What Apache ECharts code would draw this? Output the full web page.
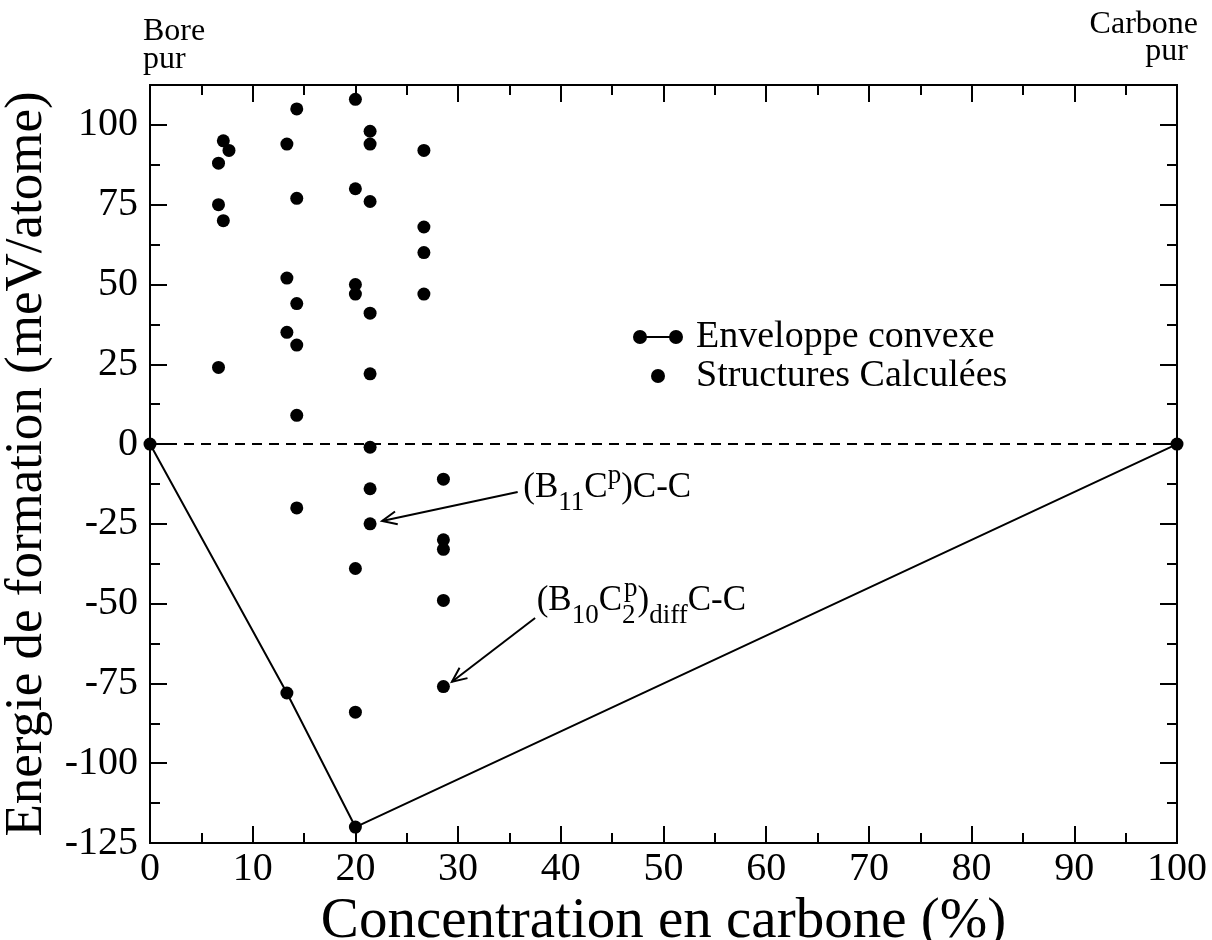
<!DOCTYPE html>
<html>
<head>
<meta charset="utf-8">
<script src="https://cdn.jsdelivr.net/npm/echarts@6/dist/echarts.min.js"></script>
<style>html,body{margin:0;padding:0;background:#fff}#c{width:1212px;height:940px}</style>
</head>
<body>
<div id="c"></div>
<script>
// ---------- data ----------
const hullX = [0, 13.33, 20, 100];
const hullY = [0, -78, -120, 0];

const structX = [6.67, 6.67, 6.67, 7.14, 7.14, 7.69,
  13.33, 13.33, 13.33,
  14.29, 14.29, 14.29, 14.29, 14.29, 14.29,
  20, 20, 20, 20, 20, 20,
  21.43, 21.43, 21.43, 21.43, 21.43, 21.43, 21.43, 21.43,
  26.67, 26.67, 26.67, 26.67,
  28.57, 28.57, 28.57, 28.57, 28.57];
const structY = [88, 75, 24, 95, 70, 92,
  94, 52, 35,
  105, 77, 44, 31, 9, -20,
  108, 80, 50, 47, -39, -84,
  98, 94, 76, 41, 22, -1, -14, -25,
  92, 68, 60, 47,
  -11, -30, -33, -49, -76];

const zeroLineX = [0, 100];
const zeroLineY = [0, 0];

const seriesNames = ['Enveloppe convexe', 'Structures Calculées'];
const xAxisTitle = 'Concentration en carbone (%)';
const yAxisTitle = 'Energie de formation (meV/atome)';

// annotation labels: pieces [text, kind]
const annoLabels = [
  [['(B', 'n'], ['11', 'sub'], ['C', 'n'], ['p', 'sup'], [')C-C', 'n']],
  [['(B', 'n'], ['10', 'sub'], ['C', 'n'], ['2', 'sub'], ['p', 'supStack'], [')', 'n'], ['diff', 'sub'], ['C-C', 'n']]
];
const annoAnchorX = [36.35, 37.65];
const annoAnchorY = [-17.2, -52.6];
// arrows: from (x1,y1) to (x2,y2) in data units
const arrowX1 = [35.8, 37.5];
const arrowY1 = [-15.0, -54.5];
const arrowX2 = [22.6, 29.4];
const arrowY2 = [-24.1, -74.5];

// ---------- chart ----------
const FONT = '"Liberation Serif","Times New Roman",Times,serif';
const MAIN = 35, SUB = 27;
const mctx = document.createElement('canvas').getContext('2d');
function tw(t, s) { mctx.font = s + 'px ' + FONT; return mctx.measureText(t).width; }

const chart = echarts.init(document.getElementById('c'), null, { renderer: 'canvas' });

const axisLineStyle = { color: '#000', width: 2 };
function xAx(pos, showLabel, extra) {
  return Object.assign({
    type: 'value', position: pos, min: 0, max: 100, interval: 10,
    axisLine: { show: true, onZero: false, lineStyle: axisLineStyle },
    axisTick: { show: true, inside: true, length: 17, lineStyle: { color: '#000', width: 2 } },
    minorTick: { show: true, splitNumber: 2, length: 10, lineStyle: { color: '#000', width: 2 } },
    splitLine: { show: false }, minorSplitLine: { show: false },
    axisLabel: { show: showLabel, fontSize: 40, fontFamily: FONT, color: '#000', margin: 6 }
  }, extra || {});
}
function yAx(pos, interval, len, showLabel, extra) {
  return Object.assign({
    type: 'value', position: pos, min: -125, max: 112.5, interval: interval,
    axisLine: { show: true, onZero: false, lineStyle: axisLineStyle },
    axisTick: { show: true, inside: true, length: len, lineStyle: { color: '#000', width: 2 } },
    splitLine: { show: false },
    axisLabel: {
      show: showLabel, fontSize: 40, fontFamily: FONT, color: '#000', margin: 12,
      formatter: v => (Math.abs(v % 25) < 1e-9 ? String(v) : '')
    }
  }, extra || {});
}

const option = {
  animation: false,
  backgroundColor: '#fff',
  grid: { left: 150, right: 35, top: 85, bottom: 97, containLabel: false, outerBoundsMode: 'none' },
  xAxis: [
    xAx('bottom', true, {
      name: xAxisTitle, nameLocation: 'middle', nameGap: 36,
      nameTextStyle: { fontSize: 57, fontFamily: FONT, color: '#000' }
    }),
    xAx('top', false)
  ],
  yAxis: [
    yAx('left', 25, 17, true, {
      name: yAxisTitle, nameLocation: 'middle', nameGap: 92,
      nameTextStyle: { fontSize: 53, fontFamily: FONT, color: '#000' }
    }),
    yAx('left', 12.5, 10, false),
    yAx('right', 25, 17, false),
    yAx('right', 12.5, 10, false)
  ],
  legend: {
    orient: 'vertical', left: 628, top: 313,
    itemWidth: 50, itemHeight: 14, itemGap: 1,
    textStyle: { fontSize: 38, fontFamily: FONT, color: '#000', lineHeight: 30, padding: [0, 0, 0, 8] },
    data: [
      { name: seriesNames[0], icon: 'path://M7,0 A7,7 0 1 1 7,14 A7,7 0 1 1 7,0 Z M12,6 L38,6 L38,8 L12,8 Z M43,0 A7,7 0 1 1 43,14 A7,7 0 1 1 43,0 Z' },
      { name: seriesNames[1], icon: 'circle' }
    ],
    itemStyle: { color: '#000', opacity: 1 }
  },
  series: [
    {
      name: 'zero', type: 'line', silent: true, symbol: 'none',
      data: zeroLineX.map((x, i) => [x, zeroLineY[i]]),
      lineStyle: { color: '#000', width: 2, type: [10, 7] }, z: 1
    },
    {
      name: seriesNames[0], type: 'line', clip: false,
      data: hullX.map((x, i) => [x, hullY[i]]),
      symbol: 'circle', symbolSize: 13, showAllSymbol: true,
      lineStyle: { color: '#000', width: 2 }, itemStyle: { color: '#000', opacity: 1 }, z: 3
    },
    {
      name: seriesNames[1], type: 'scatter', clip: false,
      data: structX.map((x, i) => [x, structY[i]]),
      symbol: 'circle', symbolSize: 13, itemStyle: { color: '#000', opacity: 1 }, z: 4
    },
    {
      name: 'arrows', type: 'custom', silent: true, clip: false,
      data: arrowX1.map((x, i) => [x, arrowY1[i], arrowX2[i], arrowY2[i]]),
      encode: { x: [0, 2], y: [1, 3] },
      renderItem: function (params, api) {
        const p1 = api.coord([api.value(0), api.value(1)]);
        const p2 = api.coord([api.value(2), api.value(3)]);
        const a = Math.atan2(p2[1] - p1[1], p2[0] - p1[0]);
        const L = 16, s = 0.42;
        const w1 = [p2[0] - L * Math.cos(a - s), p2[1] - L * Math.sin(a - s)];
        const w2 = [p2[0] - L * Math.cos(a + s), p2[1] - L * Math.sin(a + s)];
        return {
          type: 'group', children: [
            { type: 'line', shape: { x1: p1[0], y1: p1[1], x2: p2[0], y2: p2[1] }, style: { stroke: '#000', lineWidth: 2 } },
            { type: 'polyline', shape: { points: [w1, p2, w2] }, style: { stroke: '#000', lineWidth: 2, fill: null } }
          ]
        };
      }, z: 5
    },
    {
      name: 'labels', type: 'custom', silent: true, clip: false,
      data: annoAnchorX.map((x, i) => [x, annoAnchorY[i]]),
      renderItem: function (params, api) {
        const p = api.coord([api.value(0), api.value(1)]);
        const pieces = annoLabels[params.dataIndex];
        let x = p[0];
        let prevStart = x, prevEnd = x;
        const children = [];
        pieces.forEach(function (pc) {
          const txt = pc[0], kind = pc[1];
          const size = kind === 'n' ? MAIN : SUB;
          let dy = 0;
          if (kind === 'sub') dy = 12;
          if (kind === 'sup' || kind === 'supStack') dy = -15;
          let px = x;
          if (kind === 'supStack') px = prevStart + 2;
          const w = tw(txt, size);
          children.push({
            type: 'text', x: px, y: p[1] + dy - 0.305 * size,
            style: { text: txt, fontSize: size, fontFamily: FONT, fill: '#000', align: 'left', verticalAlign: 'middle' }
          });
          if (kind === 'supStack') {
            x = Math.max(prevEnd, px + w);
          } else {
            prevStart = px; prevEnd = px + w; x = px + w;
          }
        });
        return { type: 'group', children: children };
      }, z: 6
    }
  ],
  graphic: [
    { type: 'text', left: 143, top: 16, style: { text: 'Bore', fontSize: 32, fontFamily: FONT, fill: '#000' } },
    { type: 'text', left: 143, top: 44, style: { text: 'pur', fontSize: 32, fontFamily: FONT, fill: '#000' } },
    { type: 'text', right: 14, top: 9, style: { text: 'Carbone', fontSize: 32, fontFamily: FONT, fill: '#000' } },
    { type: 'text', right: 24, top: 36, style: { text: 'pur', fontSize: 32, fontFamily: FONT, fill: '#000' } }
  ]
};
chart.setOption(option);
</script>
</body>
</html>
